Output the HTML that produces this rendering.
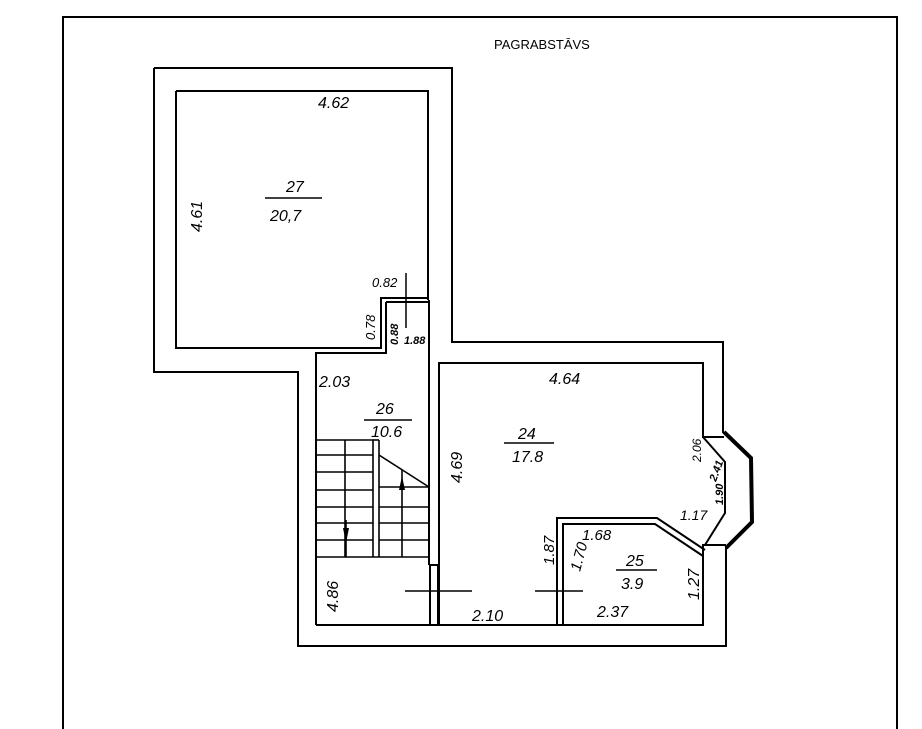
<!DOCTYPE html>
<html><head><meta charset="utf-8"><style>
html,body{margin:0;padding:0;background:#fff;width:922px;height:729px;overflow:hidden}
svg{display:block}
text{font-family:"Liberation Sans",sans-serif;font-style:italic;font-size:16px;fill:#000}
.s{font-size:11px;font-weight:bold}
</style></head><body>
<svg width="922" height="729" viewBox="0 0 922 729" xmlns="http://www.w3.org/2000/svg">
<g fill="none" stroke="#000" stroke-width="2">
<!-- frame -->
<polyline points="63,729 63,17 897,17 897,729" stroke-width="2"/>
<!-- outer walls -->
<polyline points="154,68 452,68 452,342 723,342 723,433"/>
<polyline points="154,68 154,372 298,372 298,646 726,646 726,546"/>
<!-- room 27 inner -->
<polyline points="176,91 428,91 428,300"/>
<polyline points="176,91 176,348 381,348 381,298 428,298"/>
<polyline points="386,302 428,302"/>
<polyline points="386,302 386,353 316,353 316,625"/>
<!-- room 26 right wall -->
<line x1="429" y1="300" x2="429" y2="565"/>
<line x1="430" y1="565" x2="430" y2="625"/>
<line x1="438" y1="565" x2="438" y2="625"/>
<line x1="430" y1="565" x2="438" y2="565"/>
<!-- room 24 -->
<polyline points="439,625 439,363 703,363 703,437 724,437"/>
<polyline points="703,437 725,462 725,513 705,545 726,545"/>
<polyline points="705,545 703,545 703,625 316,625"/>
<!-- bay outer thick -->
<polyline points="724,432 751,458 752,522 726,548" stroke-width="4"/>
<!-- room 25 -->
<polyline points="557,625 557,518 657,518 705,550"/>
<polyline points="563,625 563,524 655,524 703,556"/>
<!-- stairs -->
<g stroke-width="1.6">
<line x1="317" y1="440" x2="373" y2="440"/>
<line x1="317" y1="455" x2="373" y2="455"/>
<line x1="317" y1="472" x2="373" y2="472"/>
<line x1="317" y1="490" x2="373" y2="490"/>
<line x1="317" y1="507" x2="373" y2="507"/>
<line x1="317" y1="523" x2="373" y2="523"/>
<line x1="317" y1="540" x2="373" y2="540"/>
<line x1="317" y1="557" x2="429" y2="557"/>
<line x1="345" y1="440" x2="345" y2="557"/>
<line x1="373" y1="440" x2="373" y2="557"/>
<line x1="379" y1="440" x2="379" y2="557"/>
<line x1="373" y1="440" x2="379" y2="440"/>
<line x1="379" y1="455" x2="429" y2="487"/>
<line x1="379" y1="487" x2="429" y2="487"/>
<line x1="379" y1="507" x2="429" y2="507"/>
<line x1="379" y1="523" x2="429" y2="523"/>
<line x1="379" y1="540" x2="429" y2="540"/>
<line x1="402" y1="470" x2="402" y2="557"/>
<line x1="346" y1="520" x2="346" y2="557"/>
</g>
<!-- dim lines -->
<line x1="405" y1="591" x2="472" y2="591" stroke-width="1.5"/>
<line x1="535" y1="591" x2="583" y2="591" stroke-width="1.5"/>
<line x1="406" y1="273" x2="406" y2="328" stroke-width="1.5"/>
<!-- fraction lines -->
<line x1="265" y1="198" x2="322" y2="198" stroke-width="1.5"/>
<line x1="364" y1="420" x2="412" y2="420" stroke-width="1.5"/>
<line x1="504" y1="443" x2="554" y2="443" stroke-width="1.5"/>
<line x1="616" y1="570" x2="657" y2="570" stroke-width="1.5"/>
</g>
<polygon points="399,490 405,490 402,476" fill="#000"/>
<polygon points="343,528 349,528 346,543" fill="#000"/>
<text x="494" y="49" style="font-style:normal;font-size:13px">PAGRABSTĀVS</text>
<text x="318" y="108">4.62</text>
<text x="286" y="192">27</text>
<text x="270" y="221">20,7</text>
<text transform="translate(202,232) rotate(-90)">4.61</text>
<text x="372" y="287" style="font-size:13px">0.82</text>
<text transform="translate(375,340) rotate(-90)" style="font-size:13px">0.78</text>
<text transform="translate(398,345) rotate(-90)" class="s">0.88</text>
<text x="404" y="344" class="s">1.88</text>
<text x="319" y="387">2.03</text>
<text x="376" y="414">26</text>
<text x="371" y="437">10.6</text>
<text transform="translate(462,483) rotate(-90)">4.69</text>
<text x="518" y="439">24</text>
<text x="512" y="462">17.8</text>
<text x="549" y="384">4.64</text>
<text transform="translate(701,462) rotate(-90)" style="font-size:12px">2.06</text>
<text transform="translate(716,482) rotate(-70)" class="s">2.41</text>
<text transform="translate(723,505) rotate(-90)" class="s">1.90</text>
<text x="680" y="520" style="font-size:14px">1.17</text>
<text transform="translate(554,565) rotate(-90)" style="font-size:15px">1.87</text>
<text transform="translate(580,572) rotate(-75)" style="font-size:15px">1.70</text>
<text x="582" y="540" style="font-size:15px">1.68</text>
<text x="626" y="566">25</text>
<text x="621" y="589">3.9</text>
<text transform="translate(699,600) rotate(-90)">1.27</text>
<text x="597" y="617">2.37</text>
<text x="472" y="621">2.10</text>
<text transform="translate(338,612) rotate(-90)">4.86</text>
</svg>
</body></html>
